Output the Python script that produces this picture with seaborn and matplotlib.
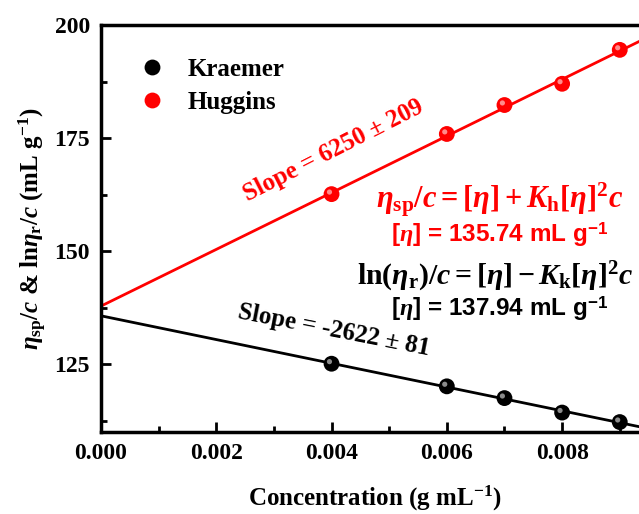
import matplotlib
import numpy as np
import pandas as pd

matplotlib.use('Agg')
import matplotlib.pyplot as plt
import matplotlib.transforms as mtransforms
from matplotlib.ticker import MultipleLocator, FormatStrFormatter
import seaborn as sns

# data
conc = [0.004, 0.006, 0.007, 0.008, 0.009]
kraemer = [125.1, 120.1, 117.5, 114.3, 112.2]
huggins = [162.6, 175.9, 182.3, 187.0, 194.5]
methods = ['Kraemer', 'Huggins']
colors = {'Kraemer': 'black', 'Huggins': 'red'}
x_ticks = [0.000, 0.002, 0.004, 0.006, 0.008]
y_ticks = [125, 150, 175, 200]

sns.set_theme(style='ticks')
plt.rcParams['font.family'] = ['Liberation Serif', 'DejaVu Serif']
plt.rcParams['font.weight'] = 'bold'
plt.rcParams['text.color'] = 'black'
plt.rcParams['axes.labelcolor'] = 'black'
plt.rcParams['xtick.color'] = 'black'
plt.rcParams['ytick.color'] = 'black'
plt.rcParams['mathtext.fontset'] = 'custom'
plt.rcParams['mathtext.rm'] = 'Liberation Serif:bold'
plt.rcParams['mathtext.it'] = 'Liberation Serif:bold:italic'
plt.rcParams['mathtext.bf'] = 'Liberation Serif:bold'
plt.rcParams['mathtext.sf'] = 'Liberation Sans:bold'

df = pd.DataFrame({
    'conc': conc * 2,
    'value': kraemer + huggins,
    'method': ['Kraemer'] * len(conc) + ['Huggins'] * len(conc),
})

fig = plt.figure(figsize=(6.39, 5.14), dpi=100)
ax = fig.add_axes([0.158, 0.1595, 0.857, 0.7919])
ax.set_xlim(0, 0.0095)
ax.set_ylim(110, 200)

# fitted lines across the whole axis
for m in methods:
    sub = df[df['method'] == m]
    sns.regplot(data=sub, x='conc', y='value', ax=ax, ci=None, truncate=False,
                scatter=False, color=colors[m], line_kws={'lw': 2.0, 'zorder': 2})

sns.scatterplot(data=df, x='conc', y='value', hue='method', hue_order=methods,
                palette=colors, s=130, edgecolor='none', ax=ax, zorder=3)
# small highlight to mimic shaded spheres
hl = mtransforms.offset_copy(ax.transData, fig=fig, x=-1.5, y=1.5, units='points')
for m in methods:
    sub = df[df['method'] == m]
    ax.scatter(sub['conc'], sub['value'], s=14, color='white', alpha=0.55,
               edgecolor='none', transform=hl, zorder=4)

ax.set_xticks(x_ticks)
ax.set_yticks(y_ticks)
ax.xaxis.set_major_formatter(FormatStrFormatter('%.3f'))
ax.xaxis.set_minor_locator(MultipleLocator(0.001))
ax.yaxis.set_minor_locator(MultipleLocator(12.5))
ax.tick_params(which='both', direction='in', width=2, labelsize=17, pad=8)
ax.tick_params(which='major', length=7)
ax.tick_params(which='minor', length=4)
for lab in ax.get_xticklabels() + ax.get_yticklabels():
    lab.set_fontweight('bold')
for sp in ax.spines.values():
    sp.set_linewidth(2.5)
    sp.set_color('black')

ax.set_xlabel('Concentration (g mL$^{\\mathbf{-1}}$)', fontsize=18, fontweight='bold', labelpad=14)
ax.set_ylabel('$\\eta_{\\mathrm{sp}}/c$ & ln$\\eta_{\\mathrm{r}}/c$ (mL g$^{\\mathbf{-1}}$)',
              fontsize=18, fontweight='bold', labelpad=4)

leg = ax.legend(loc='upper left', frameon=False, fontsize=18, handlelength=1.0,
                bbox_to_anchor=(0.03, 0.975), handletextpad=0.9, labelspacing=0.4)
for t in leg.get_texts():
    t.set_fontweight('bold')

ax.text(0.00404, 172.3, 'Slope = 6250 ± 209', color='red', fontsize=18, fontweight='bold',
        fontstyle='normal', rotation=27, ha='center', va='center')
ax.text(0.00404, 132.5, 'Slope = -2622 ± 81', color='black', fontsize=18, fontweight='bold',
        fontstyle='normal', rotation=-11, ha='center', va='center')
ax.text(0.00692, 161.5, '$\\eta_{\\mathrm{sp}}/c = [\\eta] + K_{\\mathrm{h}}[\\eta]^{2}c$',
        color='red', fontsize=22, ha='center', va='center')
ax.text(0.00692, 153.6, '[$\\eta$] = 135.74 mL g$^{\\mathsf{-1}}$', color='red', fontsize=17.5,
        family='Liberation Sans', fontweight='bold', ha='center', va='center')
ax.text(0.00444, 144.4, '$\\mathrm{ln}(\\eta_{\\mathrm{r}})/c = [\\eta] - K_{\\mathrm{k}}[\\eta]^{2}c$',
        color='black', fontsize=21.5, ha='left', va='center')
ax.text(0.00692, 137.2, '[$\\eta$] = 137.94 mL g$^{\\mathsf{-1}}$', color='black', fontsize=17.5,
        family='Liberation Sans', fontweight='bold', ha='center', va='center')

fig.savefig('out.png', dpi=100)
plt.close(fig)
